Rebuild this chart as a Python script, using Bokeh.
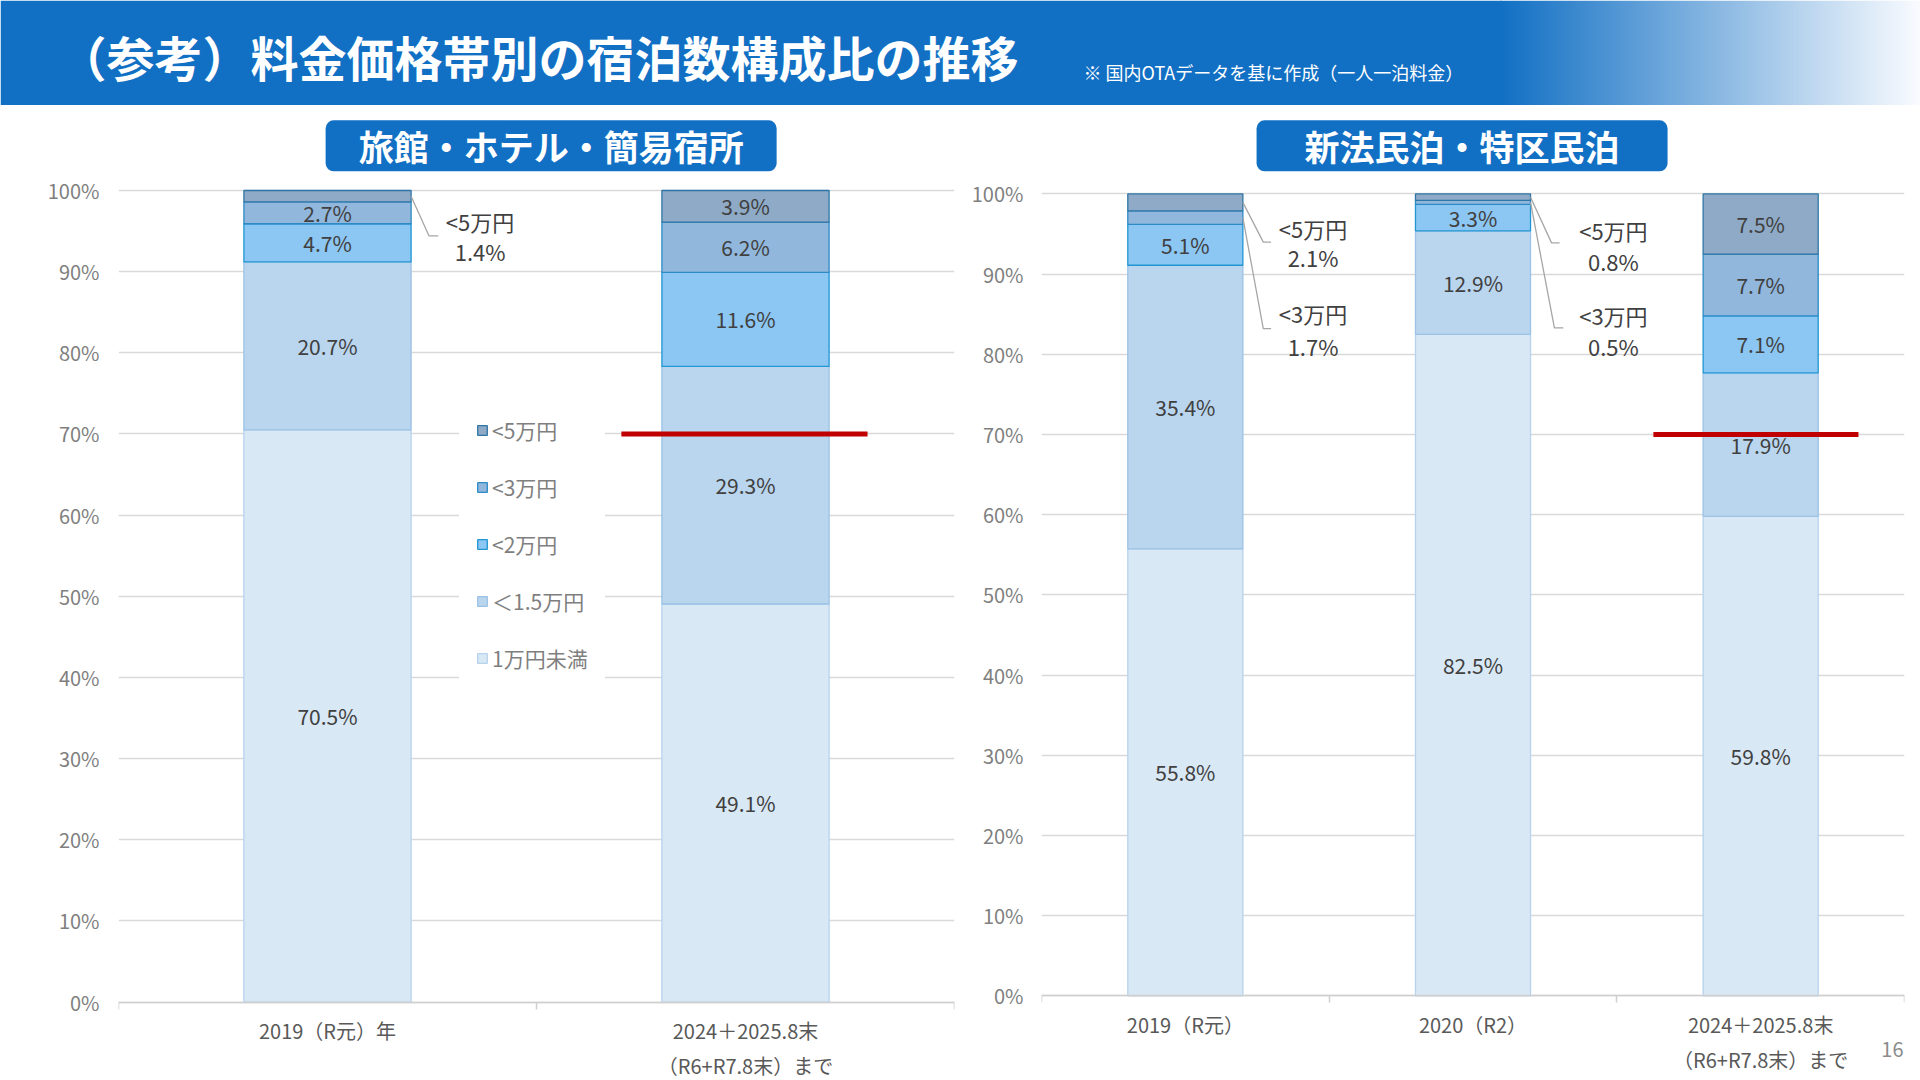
import numpy as np
from bokeh.plotting import figure
from bokeh.models import Range1d, FixedTicker, PrintfTickFormatter, Legend, LegendItem, Label
from bokeh.layouts import column, row
from bokeh.embed import file_html
from bokeh.resources import INLINE
from bokeh.core.properties import value

FONT = "Noto Sans CJK JP"

# ---------------- data ----------------
TITLE = "（参考）料金価格帯別の宿泊数構成比の推移"
NOTE = "※ 国内OTAデータを基に作成（一人一泊料金）"
PAGE_NO = "16"

SERIES = ["1万円未満", "＜1.5万円", "<2万円", "<3万円", "<5万円"]

HOTEL_TITLE = "旅館・ホテル・簡易宿所"
HOTEL_CATS = ["2019（R元）年", "2024＋2025.8末\n（R6+R7.8末）まで"]
HOTEL_U10K = [70.5, 49.1]
HOTEL_U15K = [20.7, 29.3]
HOTEL_U20K = [4.7, 11.6]
HOTEL_U30K = [2.7, 6.2]
HOTEL_U50K = [1.4, 3.9]

MINPAKU_TITLE = "新法民泊・特区民泊"
MINPAKU_CATS = ["2019（R元）", "2020（R2）", "2024＋2025.8末\n（R6+R7.8末）まで"]
MINPAKU_U10K = [55.8, 82.5, 59.8]
MINPAKU_U15K = [35.4, 12.9, 17.9]
MINPAKU_U20K = [5.1, 3.3, 7.1]
MINPAKU_U30K = [1.7, 0.5, 7.7]
MINPAKU_U50K = [2.1, 0.8, 7.5]

TARGET_SHARE = 70.0
Y_TICKS = list(range(0, 101, 10))

# ---------------- styles ----------------
HEADER_BLUE = "#1270C4"
FILLS = ["#D9E8F5", "#BAD5EE", "#8CC6F2", "#91B7DD", "#8EAAC6"]
LINES = ["#B7D2EC", "#9CC2E5", "#2096D3", "#2C8AC5", "#2E76A6"]
GRID = "#D9D9D9"

# callout layout (annotation positions, not data)
HOTEL_CALLOUTS = {
    (0, 4): dict(elbow_dx=0.043, end_dx=0.065, text_dx=0.165, elbow_y=94.4, name_y=96.3, value_y=92.5),
}
MINPAKU_CALLOUTS = {
    (0, 4): dict(elbow_dx=0.071, end_dx=0.098, text_dx=0.244, elbow_y=94.0, name_y=95.7, value_y=92.1),
    (0, 3): dict(elbow_dx=0.071, end_dx=0.098, text_dx=0.244, elbow_y=83.2, name_y=85.1, value_y=81.1),
    (1, 4): dict(elbow_dx=0.073, end_dx=0.101, text_dx=0.288, elbow_y=93.9, name_y=95.5, value_y=91.7),
    (1, 3): dict(elbow_dx=0.083, end_dx=0.114, text_dx=0.288, elbow_y=83.3, name_y=84.9, value_y=81.1),
}


def build_chart(cats, values, title, cfg):
    n = len(cats)
    totals = [sum(v[i] for v in values) for i in range(n)]
    p = figure(frame_width=cfg["fw"], frame_height=cfg["fh"],
               x_range=Range1d(-0.5, n - 0.5), y_range=Range1d(cfg["ymin"], cfg["ymax"]),
               min_border_left=cfg["bl"], min_border_right=cfg["br"],
               min_border_top=0, min_border_bottom=0,
               output_backend="svg", toolbar_location=None,
               background_fill_color="white", border_fill_color="white",
               outline_line_color=None)

    # x axis fixed at 0 %, drawn inside the frame
    xa = p.xaxis[0]
    xa.fixed_location = 0
    xa.ticker = FixedTicker(ticks=list(range(n)), minor_ticks=[k - 0.5 for k in range(n + 1)])
    xa.major_label_overrides = {i: c for i, c in enumerate(cats)}
    xa.major_tick_line_color = None
    xa.major_tick_out = 0
    xa.major_tick_in = 0
    xa.minor_tick_in = 0
    xa.minor_tick_out = 7
    xa.minor_tick_line_color = "#CFCFCF"
    xa.minor_tick_line_width = 1.5
    xa.axis_line_color = "#CFCFCF"
    xa.axis_line_width = 1.5
    xa.major_label_standoff = 7
    xa.major_label_text_font = FONT
    xa.major_label_text_font_size = "20px"
    xa.major_label_text_color = "#595959"

    ya = p.yaxis[0]
    ya.ticker = FixedTicker(ticks=Y_TICKS)
    ya.formatter = PrintfTickFormatter(format="%d%%")
    ya.axis_line_color = None
    ya.major_tick_line_color = None
    ya.minor_tick_line_color = None
    ya.major_tick_out = 0
    ya.major_tick_in = 0
    ya.major_label_standoff = cfg["ystand"]
    ya.major_label_text_font = FONT
    ya.major_label_text_font_size = "20px"
    ya.major_label_text_color = "#7F7F7F"

    p.xgrid.visible = False
    p.ygrid.ticker = FixedTicker(ticks=Y_TICKS)
    p.ygrid.grid_line_color = GRID
    p.ygrid.grid_line_width = 1.5

    xs = list(range(n))
    bottom = [0.0] * n
    renderers = []
    mids = {}
    lab_x, lab_y, lab_t = [], [], []
    for k, vals in enumerate(values):
        share = [vals[i] / totals[i] * 100 for i in range(n)]
        top = [bottom[i] + share[i] for i in range(n)]
        r = p.vbar(x=xs, bottom=bottom, top=top, width=0.4,
                   fill_color=FILLS[k], line_color=LINES[k], line_width=1.3)
        renderers.append(r)
        for i in range(n):
            m = (bottom[i] + top[i]) / 2
            mids[(i, k)] = m
            if vals[i] >= 2.5:
                lab_x.append(xs[i]); lab_y.append(m); lab_t.append(f"{vals[i]:.1f}%")
        bottom = top

    p.text(x=lab_x, y=lab_y, text=lab_t, text_align="center", text_baseline="middle",
           text_font=value(FONT), text_font_size="21px", text_color="#404040")

    # callouts
    lx, ly, nx, ny, nt, vy, vt = [], [], [], [], [], [], []
    for (i, k), c in cfg["callouts"].items():
        edge = xs[i] + 0.2
        lx.append([edge, edge + c["elbow_dx"], edge + c["end_dx"]])
        ly.append([mids[(i, k)], c["elbow_y"], c["elbow_y"]])
        nx.append(edge + c["text_dx"]); ny.append(c["name_y"]); nt.append(SERIES[k])
        vy.append(c["value_y"]); vt.append(f"{values[k][i]:.1f}%")
    p.multi_line(xs=lx, ys=ly, line_color="#A6A6A6", line_width=1.3)
    p.text(x=nx, y=ny, text=nt, text_align="center", text_baseline="middle",
           text_font=value(FONT), text_font_size="22px", text_color="#404040")
    p.text(x=nx, y=vy, text=vt, text_align="center", text_baseline="middle",
           text_font=value(FONT), text_font_size="22px", text_color="#404040")

    # 70% marker line on latest period
    last = n - 1
    p.segment(x0=[last - cfg["red_l"]], x1=[last + cfg["red_r"]],
              y0=[TARGET_SHARE], y1=[TARGET_SHARE], line_color="#C00000", line_width=5)

    # subtitle box
    p.add_layout(Label(x=cfg["sub_x"], y=cfg["sub_y"], text=title,
                       text_align="center", text_baseline="middle",
                       text_font=FONT, text_font_size="35px", text_font_style="bold",
                       text_color="white", background_fill_color=HEADER_BLUE,
                       padding=cfg["sub_pad"], border_radius=8))

    if cfg.get("legend"):
        items = [LegendItem(label=SERIES[k], renderers=[renderers[k]])
                 for k in reversed(range(len(SERIES)))]
        leg = Legend(items=items, location=cfg["legend_loc"],
                     label_text_font=FONT, label_text_font_size="21px",
                     label_text_color="#7F7F7F", glyph_width=12, glyph_height=12,
                     label_height=20, label_standoff=4, spacing=27, padding=16,
                     margin=0, background_fill_color="white", background_fill_alpha=1.0,
                     border_line_color="white", border_line_alpha=1.0)
        p.add_layout(leg)
    return p


# ---------------- header ----------------
HDR_W, HDR_H = 1920, 105
hdr = figure(width=HDR_W, height=HDR_H, x_range=Range1d(0, HDR_W), y_range=Range1d(0, HDR_H),
             min_border=0, toolbar_location=None, output_backend="svg",
             outline_line_color=None, x_axis_location=None, y_axis_location=None,
             background_fill_color="white", border_fill_color="white")
hdr.grid.visible = False
GRAD_X0 = 1500
GRAD_N = HDR_W - GRAD_X0
c0 = np.array([0x12, 0x70, 0xC4], dtype=float)
c1 = np.array([0xFA, 0xFC, 0xFF], dtype=float)
t = np.linspace(0, 1, GRAD_N)
img = np.empty((1, GRAD_N), dtype=np.uint32)
view = img.view(dtype=np.uint8).reshape((1, GRAD_N, 4))
view[0, :, 0:3] = (c0 + (c1 - c0) * t[:, None]).astype(np.uint8)
view[0, :, 3] = 255
hdr.quad(left=[0], right=[GRAD_X0 + 1], bottom=[0], top=[HDR_H], fill_color=HEADER_BLUE, line_color=None)
hdr.image_rgba(image=[img], x=GRAD_X0, y=0, dw=GRAD_N, dh=HDR_H)
hdr.add_layout(Label(x=58, y=50, text=TITLE, text_align="left", text_baseline="middle",
                     text_font=FONT, text_font_size="48px", text_font_style="bold",
                     text_color="white"))
hdr.add_layout(Label(x=1083, y=34, text=NOTE, text_align="left", text_baseline="middle",
                     text_font=FONT, text_font_size="18px", text_color="white"))

# ---------------- charts ----------------
CHART_H = 1080 - HDR_H
hotel_cfg = dict(fw=836, fh=CHART_H, bl=118, br=11, ymin=-9.66, ymax=110.47, ystand=19,
                 callouts=HOTEL_CALLOUTS, red_l=0.297, red_r=0.292,
                 sub_x=0.535, sub_y=105.5,
                 sub_pad=dict(left=33, right=33, top=0, bottom=0),
                 legend=True, legend_loc=(341, 390))
minpaku_cfg = dict(fw=863, fh=CHART_H, bl=76, br=16, ymin=-10.54, ymax=111.03, ystand=18,
                   callouts=MINPAKU_CALLOUTS, red_l=0.373, red_r=0.340,
                   sub_x=0.962, sub_y=106.0,
                   sub_pad=dict(left=48, right=48, top=0, bottom=0),
                   legend=False)

p_hotel = build_chart(HOTEL_CATS,
                      [HOTEL_U10K, HOTEL_U15K, HOTEL_U20K, HOTEL_U30K, HOTEL_U50K],
                      HOTEL_TITLE, hotel_cfg)
p_minpaku = build_chart(MINPAKU_CATS,
                        [MINPAKU_U10K, MINPAKU_U15K, MINPAKU_U20K, MINPAKU_U30K, MINPAKU_U50K],
                        MINPAKU_TITLE, minpaku_cfg)
p_minpaku.add_layout(Label(x=2.458, y=-6.7, text=PAGE_NO, text_align="center",
                           text_baseline="middle", text_font=FONT, text_font_size="20px",
                           text_color="#8C8C8C"))

layout = column(hdr, row(p_hotel, p_minpaku, spacing=0), spacing=0)

with open("out.html", "w") as f:
    f.write(file_html(layout, INLINE))
